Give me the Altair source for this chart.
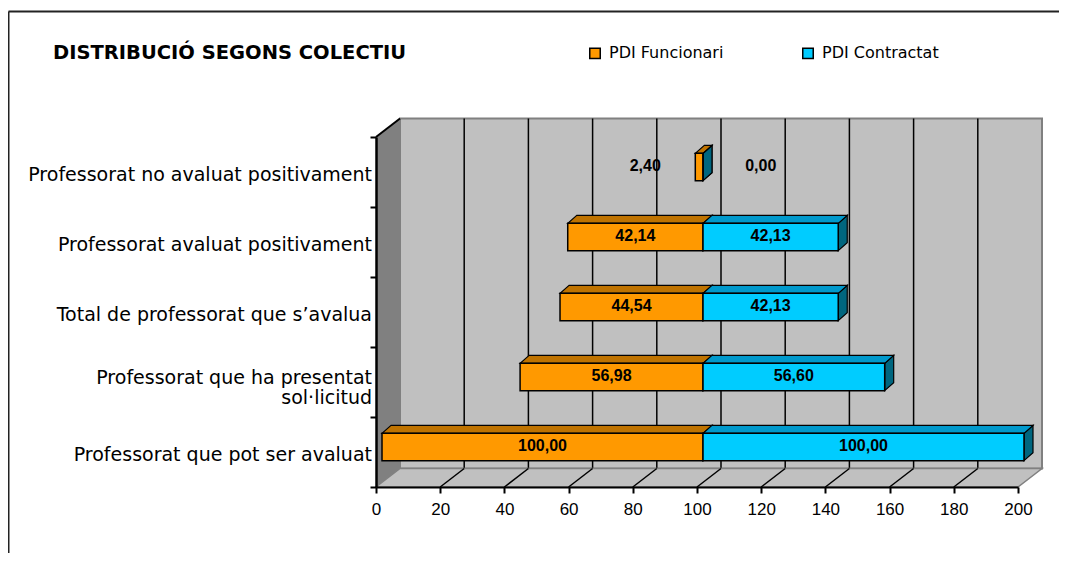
import altair as alt
import pandas as pd

# ---------------- data ----------------
categories = [
    "Professorat que pot ser avaluat",
    "Professorat que ha presentat\nsol·licitud",
    "Total de professorat que s’avalua",
    "Professorat avaluat positivament",
    "Professorat no avaluat positivament",
]  # bottom -> top
funcionari = [100.00, 56.98, 44.54, 42.14, 2.40]
contractat = [100.00, 56.60, 42.13, 42.13, 0.00]
series_names = ["PDI Funcionari", "PDI Contractat"]
x_ticks = [0, 20, 40, 60, 80, 100, 120, 140, 160, 180, 200]
title_text = "DISTRIBUCIÓ SEGONS COLECTIU"

# ---------------- layout / style ----------------
W, H = 642, 350
XMAX = 200
NCAT = len(categories)
CENTER = 100
px_x = XMAX / W
px_y = NCAT / H
WALL_DX, WALL_DY = 24, 18.5      # depth of the 3D box (px)
BAR_DX, BAR_DY = 9, 8            # depth of the bars (px)
FRONT_DX, FRONT_DY = 6, -5       # shift of the bar front faces (px)
BAR_HALF = 0.195                 # half bar thickness (category units)
MIN_LABEL_SPAN = 36              # labels of tiny bars are pushed out

ORANGE, ORANGE_TOP = "#FF9900", "#BF7300"
CYAN, CYAN_TOP, CYAN_SIDE = "#00CCFF", "#0099CC", "#00667F"
WALL, WALL_DARK = "#C0C0C0", "#808080"

wdx, wdy = WALL_DX * px_x, WALL_DY * px_y
bdx, bdy = BAR_DX * px_x, BAR_DY * px_y

def fmt(v):
    return f"{v:.2f}".replace(".", ",")

bars, tops, sides = [], [], []
for i, cat in enumerate(categories):
    yc = i + 0.5
    for s, vals in ((series_names[0], funcionari), (series_names[1], contractat)):
        v = vals[i]
        if s == series_names[0]:
            x0, x1 = CENTER - v, CENTER
            lx = CENTER - max(v, MIN_LABEL_SPAN) / 2
        else:
            x0, x1 = CENTER, CENTER + v
            lx = CENTER + max(v, MIN_LABEL_SPAN) / 2
        y0, y1 = yc - BAR_HALF, yc + BAR_HALF
        bid = f"{s}-{i}"
        bars.append(dict(series=s, cat=cat, x0=x0, x1=x1, y0=y0, y1=y1,
                         yc=yc, lx=lx, label=fmt(v)))
        tops.append(dict(id=bid, series=s, y=y1, xa=x0, xb=x1))
        tops.append(dict(id=bid, series=s, y=y1 + bdy, xa=x0 + bdx, xb=x1 + bdx))
        sides.append(dict(id=bid, series=s, x=x1, ya=y0, yb=y1))
        sides.append(dict(id=bid, series=s, x=x1 + bdx, ya=y0 + bdy, yb=y1 + bdy))

bars = pd.DataFrame(bars)
tops = pd.DataFrame(tops)
sides = pd.DataFrame(sides)
cats = pd.DataFrame({"cat": categories, "yc": [i + 0.5 for i in range(NCAT)]})
cats["multi"] = cats["cat"].str.contains("\n")
ticks = pd.DataFrame({"x": x_ticks})
box = pd.DataFrame([{"x0": 0, "x1": XMAX, "y0": 0, "y1": NCAT}])
left_wall = pd.DataFrame([
    {"x": 0, "ya": 0, "yb": NCAT},
    {"x": wdx, "ya": wdy, "yb": NCAT + wdy},
])
floor = pd.DataFrame([
    {"y": 0, "xa": 0, "xb": XMAX},
    {"y": wdy, "xa": wdx, "xb": XMAX + wdx},
])
floor_lines = pd.DataFrame({"x": x_ticks})
floor_lines["xe"] = floor_lines["x"] + wdx
floor_lines["y"] = 0.0
floor_lines["ye"] = wdy

xs = alt.Scale(domain=[0, XMAX], nice=False, zero=False)
ys = alt.Scale(domain=[0, NCAT], nice=False, zero=False)

AXIS_X = alt.Axis(values=x_ticks, grid=False, labelFont="Liberation Sans",
                  labelFontSize=17, labelColor="black", labelPadding=8,
                  tickColor="black", tickWidth=2, tickSize=6,
                  domainColor="black", domainWidth=2, zindex=2,
                  labelFlush=False, labelOverlap=False, title=None)
AXIS_Y = alt.Axis(values=list(range(NCAT + 1)), labels=False, grid=False,
                  tickColor="black", tickWidth=2, tickSize=6,
                  domainColor="black", domainWidth=2.5, zindex=2, title=None)

def X(f):
    return alt.X(f, type="quantitative", scale=xs, axis=AXIS_X, title=None)

def Y(f):
    return alt.Y(f, type="quantitative", scale=ys, axis=AXIS_Y, title=None)

def XD(v):
    return alt.X(datum=v, scale=xs, axis=AXIS_X, title=None)

def YD(v):
    return alt.Y(datum=v, scale=ys, axis=AXIS_Y, title=None)

off_bar = dict(xOffset=FRONT_DX, x2Offset=FRONT_DX, yOffset=FRONT_DY, y2Offset=FRONT_DY)
off_wall = dict(xOffset=WALL_DX, x2Offset=WALL_DX, yOffset=-WALL_DY, y2Offset=-WALL_DY)

dummy = alt.Data(values=[{}])

# outer frame (top and left border)
frame_top = alt.Chart(dummy).mark_rule(color="#222222", strokeWidth=2).encode(
    x=alt.value(-367.5), x2=alt.value(W + 60), y=alt.value(-125.5))
frame_left = alt.Chart(dummy).mark_rule(color="#222222", strokeWidth=2).encode(
    x=alt.value(-367.5), y=alt.value(-125.5), y2=alt.value(H + 80))

# back wall
wall = alt.Chart(box).mark_rect(fill=WALL, stroke=WALL_DARK, strokeWidth=2, **off_wall).encode(
    x=X("x0"), x2="x1", y=Y("y0"), y2="y1")
grid = alt.Chart(ticks[(ticks.x > 0) & (ticks.x < XMAX)]).mark_rule(
    color="black", strokeWidth=1.5, **off_wall).encode(
    x=X("x"), y=YD(0), y2=alt.Y2(datum=NCAT))

# left side wall
lwall = alt.Chart(left_wall).mark_area(orient="vertical", fill=WALL_DARK).encode(
    x=X("x"), y=Y("ya"), y2="yb")
lwall_top = alt.Chart(dummy).mark_rule(color="black", strokeWidth=2).encode(
    x=XD(0), x2=alt.X2(datum=wdx), y=YD(NCAT), y2=alt.Y2(datum=NCAT + wdy))

# floor
floor_c = alt.Chart(floor).mark_area(orient="horizontal", fill=WALL, stroke=WALL_DARK,
                                     strokeWidth=1.5).encode(
    y=Y("y"), x=X("xa"), x2="xb")
floor_l = alt.Chart(floor_lines[(floor_lines.x > 0) & (floor_lines.x < XMAX)]).mark_rule(
    color="black", strokeWidth=1.5).encode(
    x=X("x"), x2="xe", y=Y("y"), y2="ye")

# bars: side faces, top faces, front faces
def side_layer(s, col):
    return alt.Chart(sides[sides.series == s]).mark_area(
        orient="vertical", fill=col, stroke="black", strokeWidth=1.2, **off_bar).encode(
        x=X("x"), y=Y("ya"), y2="yb", detail="id:N")

def top_layer(s, col):
    return alt.Chart(tops[tops.series == s]).mark_area(
        orient="horizontal", fill=col, stroke="black", strokeWidth=1.2, **off_bar).encode(
        y=Y("y"), x=X("xa"), x2="xb", detail="id:N")

front = alt.Chart(bars).mark_rect(stroke="black", strokeWidth=1.5, **off_bar).encode(
    x=X("x0"), x2="x1", y=Y("y0"), y2="y1",
    color=alt.Color("series:N", scale=alt.Scale(domain=series_names, range=[ORANGE, CYAN]),
                    legend=alt.Legend(orient="none", legendX=211, legendY=-92,
                                      direction="horizontal", columns=2, columnPadding=75,
                                      title=None, symbolType="square", symbolSize=110,
                                      symbolStrokeColor="black", symbolStrokeWidth=1.5,
                                      symbolOpacity=1, labelFont="DejaVu Sans",
                                      labelFontSize=16, labelColor="black", labelOffset=6)),
)

values = alt.Chart(bars).mark_text(font="Liberation Sans", fontSize=16, fontWeight="bold",
                                   color="black", dx=FRONT_DX, dy=FRONT_DY - 1,
                                   baseline="middle").encode(
    x=X("lx"), y=Y("yc"), text="label:N")

label_style = dict(font="DejaVu Sans", fontSize=19, color="black", align="right",
                   baseline="middle", dx=-4, lineBreak="\n", lineHeight=20)
cat_single = alt.Chart(cats[~cats.multi]).mark_text(dy=3, **label_style).encode(
    x=XD(0), y=Y("yc"), text="cat:N")
cat_multi = alt.Chart(cats[cats.multi]).mark_text(dy=-4, **label_style).encode(
    x=XD(0), y=Y("yc"), text="cat:N")

title = alt.Chart(dummy).mark_text(font="DejaVu Sans", fontSize=19.5, fontWeight="bold",
                                   color="black", align="left", baseline="alphabetic").encode(
    x=alt.value(-323), y=alt.value(-78), text=alt.value(title_text))

chart = alt.layer(
    frame_top, frame_left, wall, grid, lwall, floor_c, floor_l, lwall_top,
    side_layer(series_names[0], ORANGE_TOP), side_layer(series_names[1], CYAN_SIDE),
    top_layer(series_names[0], ORANGE_TOP), top_layer(series_names[1], CYAN_TOP),
    front, values, cat_single, cat_multi, title,
).properties(
    width=W, height=H,
    autosize=alt.AutoSizeParams(type="none"),
    padding={"left": 368, "top": 129, "right": 41, "bottom": 66},
).configure_view(stroke=None).configure(background="white")

chart.save("out.html", embed_options={"renderer": "svg", "actions": False})
